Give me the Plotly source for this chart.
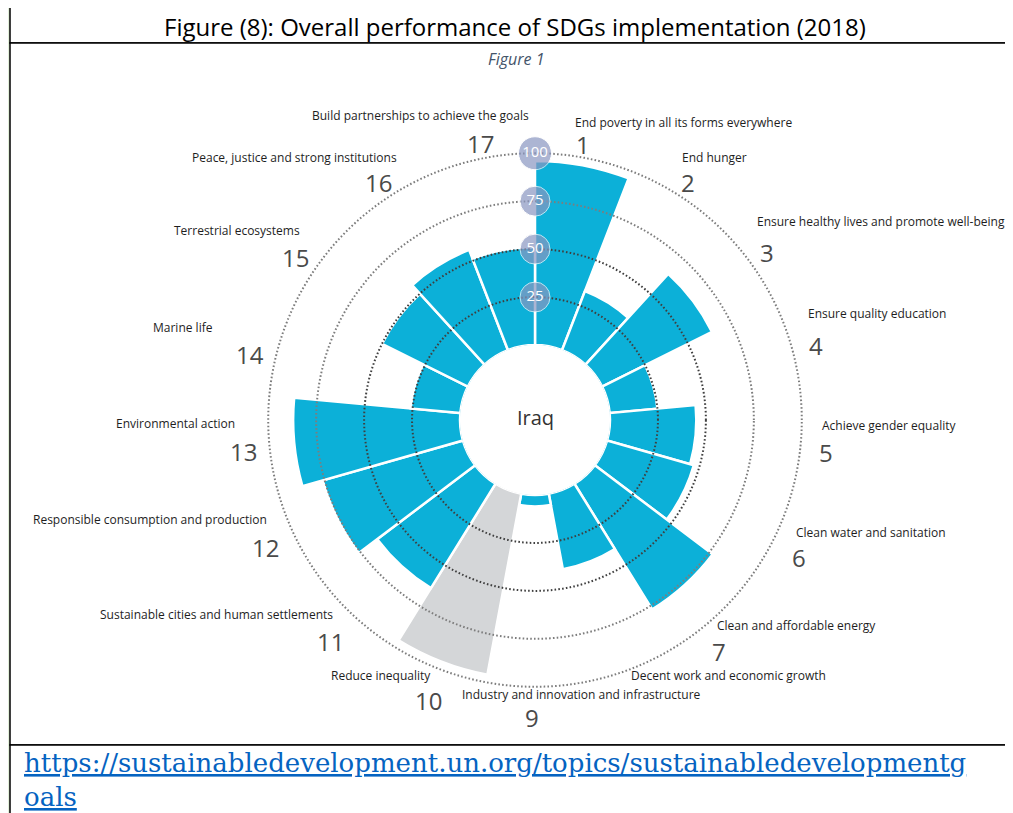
import plotly.graph_objects as go

# SDG overall performance, Iraq 2018
GOALS = list(range(1, 18))
GOAL_NAMES = [
    "End poverty in all its forms everywhere",
    "End hunger",
    "Ensure healthy lives and promote well-being",
    "Ensure quality education",
    "Achieve gender equality",
    "Clean water and sanitation",
    "Clean and affordable energy",
    "Decent work and economic growth",
    "Industry and innovation and infrastructure",
    "Reduce inequality",
    "Sustainable cities and human settlements",
    "Responsible consumption and production",
    "Environmental action",
    "Marine life",
    "Terrestrial ecosystems",
    "Peace, justice and strong institutions",
    "Build partnerships to achieve the goals",
]
SCORES = [96, 33, 64, 25, 45, 47, 77, 40, 6, 96, 64, 76, 87, 26, 50, 56, 51]
NUMBER_LABELS = ["1", "2", "3", "4", "5", "6", "7", "", "9", "10",
                 "11", "12", "13", "14", "15", "16", "17"]
GREY_GOALS = [10]
INNER_RINGS = [25, 50]
OUTER_RINGS = [75, 100]
RING_LABELS = [25, 50, 75, 100]
COUNTRY = "Iraq"

TITLE = "Figure (8): Overall performance of SDGs implementation (2018)"
CAPTION = "Figure 1"
URL_LINES = ["https://sustainabledevelopment.un.org/topics/sustainabledevelopmentg", "oals"]

# page is 1013x813, the html body adds an 8px margin
PAGE_W, PAGE_H = 1013, 813
BODY = 8
W, H = PAGE_W - BODY, PAGE_H - BODY
CX, CY = 535, 420
R_DOM = 268.7
HOLE_PX = 75

CYAN = "#0cb0d8"
GREY = "#d4d6d8"


def px(x, y):
    """page pixel -> paper coords"""
    return (x - BODY) / W, 1 - (y - BODY) / H


step = 360 / len(GOALS)
centers = [(g - 0.5) * step for g in GOALS]
colors = [GREY if g in GREY_GOALS else CYAN for g in GOALS]

fig = go.Figure()
fig.add_trace(
    go.Barpolar(
        r=SCORES,
        theta=centers,
        width=[step] * len(GOALS),
        marker=dict(color=colors, line=dict(color="white", width=2.5)),
        hoverinfo="skip",
        subplot="polar",
    )
)
# polar2 needs a trace to be drawn
fig.add_trace(go.Scatterpolar(r=[], theta=[], subplot="polar2", hoverinfo="skip"))
fig.add_trace(
    go.Scatterpolar(
        r=RING_LABELS,
        theta=[0] * len(RING_LABELS),
        mode="markers+text",
        text=[str(v) for v in RING_LABELS],
        textposition="middle center",
        textfont=dict(family="Open Sans", size=15, color="white"),
        marker=dict(
            size=[33 if v >= 100 else 30 for v in RING_LABELS],
            color="#8a97c1",
            line=dict(color="white", width=1),
        ),
        cliponaxis=False,
        hoverinfo="skip",
        subplot="polar3",
    )
)

x0, x1 = px(CX - R_DOM, 0)[0], px(CX + R_DOM, 0)[0]
y0, y1 = px(0, CY + R_DOM)[1], px(0, CY - R_DOM)[1]
hole = HOLE_PX / R_DOM

polar_common = dict(domain=dict(x=[x0, x1], y=[y0, y1]), hole=hole)
angular_plain = dict(rotation=90, direction="clockwise", showgrid=False,
                     showline=False, showticklabels=False, ticks="")


def ring_axis(levels, color):
    return dict(range=[0, 101], tickvals=levels, showgrid=True,
                gridcolor=color, griddash="1.6px,2.2px", gridwidth=1.6,
                showline=False, showticklabels=False, ticks="")


fig.update_layout(
    polar=dict(
        **polar_common,
        bgcolor="white",
        radialaxis=dict(range=[0, 101], showgrid=False, showline=False,
                        showticklabels=False, ticks=""),
        angularaxis=angular_plain,
    ),
    # overlaid polars, so the dotted rings sit on top of the bars
    polar2=dict(**polar_common, bgcolor="rgba(0,0,0,0)",
                radialaxis=ring_axis(INNER_RINGS, "#3f3f3f"),
                angularaxis=angular_plain),
    polar3=dict(**polar_common, bgcolor="rgba(0,0,0,0)",
                radialaxis=ring_axis(OUTER_RINGS, "#7d7d7d"),
                angularaxis=angular_plain),
)

# table frame around the chart
shapes = []
for top, bottom in [(7, 43), (43, 745), (745, 840)]:
    ax0, ay0 = px(10, top)
    ax1, ay1 = px(1040, bottom)
    shapes.append(dict(type="rect", xref="paper", yref="paper",
                       x0=ax0, y0=ay1, x1=ax1, y1=ay0,
                       fillcolor="white", line=dict(color="black", width=1.5),
                       layer="below"))

annotations = []


def note(x, y, text, font, xanchor="center"):
    ax_, ay_ = px(x, y)
    annotations.append(dict(x=ax_, y=ay_, text=text, showarrow=False,
                            xanchor=xanchor, yanchor="middle", font=font))


note(515, 26, TITLE, dict(family="Open Sans", size=24, color="black"))
note(516, 59, "<i>" + CAPTION + "</i>", dict(family="Open Sans", size=16, color="#44546a"))
note(CX, 418, COUNTRY, dict(family="Open Sans", size=20, color="#333333"))

# goal descriptions: (edge x, centre y, side)
desc_pos = [
    (573, 122, "left"), (680, 157, "left"), (755, 222, "left"), (806, 314, "left"),
    (820, 425, "left"), (794, 532, "left"), (715, 625, "left"), (629, 675, "left"),
    (460, 694, "left"), (433, 675, "right"), (335, 614, "right"), (269, 519, "right"),
    (237, 423, "right"), (215, 327, "right"), (302, 230, "right"), (399, 157, "right"),
    (531, 116, "right"),
]
for name, (dx, dy, side) in zip(GOAL_NAMES, desc_pos):
    note(dx, dy, name, dict(family="Open Sans", size=12, color="#1e1e1e"), side)

# goal numbers
num_pos = [
    (583, 144), (688, 182), (767, 252), (816, 345), (826, 452), (799, 557),
    (719, 651), (633, 705), (532, 717), (428, 700), (330, 641), (265, 547),
    (243, 451), (250, 354), (295, 257), (378, 183), (480, 143),
]
for label, (nx, ny) in zip(NUMBER_LABELS, num_pos):
    if label:
        note(nx, ny, label, dict(family="Open Sans", size=24, color="#4a4a4a"))

for i, line in enumerate(URL_LINES):
    note(22, 763 + 34 * i, line,
         dict(family="DejaVu Serif", size=26, color="#0563c1", lineposition="under"),
         "left")

fig.update_layout(
    width=W,
    height=H,
    margin=dict(l=0, r=0, t=0, b=0),
    paper_bgcolor="#e2efd9",
    showlegend=False,
    shapes=shapes,
    annotations=annotations,
)

fig.write_html("out.html")
